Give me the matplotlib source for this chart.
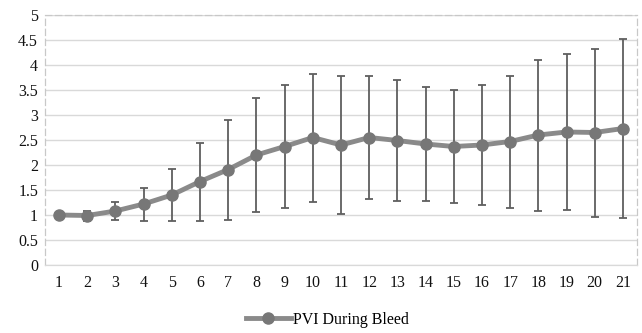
import matplotlib.pyplot as plt

x = list(range(1, 22))
pvi = [1.0, 0.99, 1.08, 1.22, 1.40, 1.67, 1.91, 2.20, 2.37, 2.55, 2.40,
       2.55, 2.49, 2.42, 2.37, 2.40, 2.47, 2.60, 2.66, 2.65, 2.73]
sd = [0.0, 0.1, 0.18, 0.33, 0.52, 0.78, 1.0, 1.14, 1.23, 1.28, 1.38,
      1.23, 1.21, 1.14, 1.13, 1.2, 1.32, 1.51, 1.56, 1.68, 1.79]
yticks = [0, 0.5, 1, 1.5, 2, 2.5, 3, 3.5, 4, 4.5, 5]
ylabels = ['0', '0.5', '1', '1.5', '2', '2.5', '3', '3.5', '4', '4.5', '5']

plt.rcParams['font.family'] = ['Liberation Serif', 'DejaVu Serif']

fig = plt.figure(figsize=(6.42, 3.33), dpi=100)
ax = fig.add_axes([45/642, 1 - 265/333, 592/642, 250/333])

ax.errorbar(x, pvi, yerr=sd, fmt='none', ecolor='#5f5f5f', elinewidth=1.3,
            capsize=3, capthick=1.3, zorder=2)
ax.plot(x, pvi, color='#8a8a8a', lw=3.5, zorder=3)
ax.plot(x, pvi, 'o', color='#777777', ms=8, zorder=4, lw=0)
h, = ax.plot([], [], color='#8a8a8a', lw=3.5, marker='o', ms=8,
             mfc='#777777', mec='#777777')

ax.set_xlim(0.5, 21.5)
ax.set_ylim(0, 5)
ax.set_xticks(x)
ax.set_xticklabels([str(i) for i in x])
ax.set_yticks(yticks)
ax.set_yticklabels(ylabels)
ax.tick_params(length=0, labelsize=11.5, colors='#111111')
ax.tick_params(axis='x', pad=7)
ax.tick_params(axis='y', pad=5)
ax.yaxis.grid(True, color='#d9d9d9', lw=1)
ax.set_axisbelow(True)
for s in ax.spines.values():
    s.set_color('#c8c8c8')
    s.set_linestyle((0, (5, 3)))
    s.set_linewidth(0.9)
ax.spines['bottom'].set_linestyle('-')
ax.spines['bottom'].set_color('#d9d9d9')

fig.legend([h], ['PVI During Bleed'], loc='center', bbox_to_anchor=(0.51, 1 - 320/333),
           frameon=False, fontsize=11.5, handlelength=2.8, handletextpad=0.15)

fig.savefig('out.png', dpi=100)
